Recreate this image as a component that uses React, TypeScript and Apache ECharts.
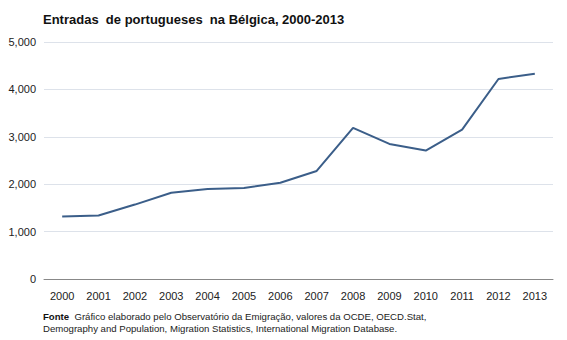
import React, { useEffect, useRef } from "react";
import * as echarts from "echarts";

const years = ["2000","2001","2002","2003","2004","2005","2006","2007","2008","2009","2010","2011","2012","2013"];
const entradas = [1320, 1340, 1570, 1820, 1900, 1920, 2030, 2280, 3190, 2850, 2710, 3150, 4220, 4330];
const titleText = "Entradas  de portugueses  na Bélgica, 2000-2013";
const sourceLine1 = "  Gráfico elaborado pelo Observatório da Emigração, valores da OCDE, OECD.Stat,";
const sourceLine2 = "Demography and Population, Migration Statistics, International Migration Database.";

export default function App() {
  const ref = useRef<HTMLDivElement>(null);
  useEffect(() => {
    const chart = echarts.init(ref.current!, null, { renderer: "svg" });
    const font = "Arial, 'Liberation Sans', sans-serif";
    chart.setOption({
      animation: false,
      backgroundColor: "#ffffff",
      title: {
        text: titleText,
        left: 38,
        top: 8,
        textStyle: { fontFamily: font, fontSize: 13, fontWeight: "bold", color: "#111" },
      },
      grid: { left: 44, right: 14, top: 42, bottom: 61, containLabel: false },
      xAxis: {
        type: "category",
        data: years,
        boundaryGap: true,
        axisLine: { lineStyle: { color: "#888", width: 1 } },
        axisTick: { show: false },
        axisLabel: { fontFamily: font, fontSize: 11, color: "#222", margin: 11, interval: 0 },
      },
      yAxis: {
        type: "value",
        min: 0,
        max: 5000,
        interval: 1000,
        axisLine: { show: false },
        axisTick: { show: false },
        splitLine: { lineStyle: { color: "#dde2ea", width: 1 } },
        axisLabel: {
          fontFamily: font,
          fontSize: 11,
          color: "#222",
          margin: 8,
          formatter: (v: number) => v.toLocaleString("en-US"),
        },
      },
      series: [
        {
          type: "line",
          data: entradas,
          symbol: "none",
          lineStyle: { color: "#3b5e89", width: 2 },
        },
      ],
      graphic: [
        {
          type: "text",
          left: 43,
          top: 310,
          style: {
            text: "{b|Fonte}{n|" + sourceLine1 + "}\n{n|" + sourceLine2 + "}",
            fontFamily: font,
            lineHeight: 12,
            rich: {
              b: { fontFamily: font, fontSize: 9.6, fontWeight: "bold", fill: "#111", lineHeight: 12 },
              n: { fontFamily: font, fontSize: 9.6, fill: "#222", lineHeight: 12 },
            },
          },
        },
      ],
    });
    return () => chart.dispose();
  }, []);
  return (
    <div
      ref={ref}
      style={{ position: "fixed", left: 0, top: 0, width: 567, height: 340, background: "#fff" }}
    />
  );
}
